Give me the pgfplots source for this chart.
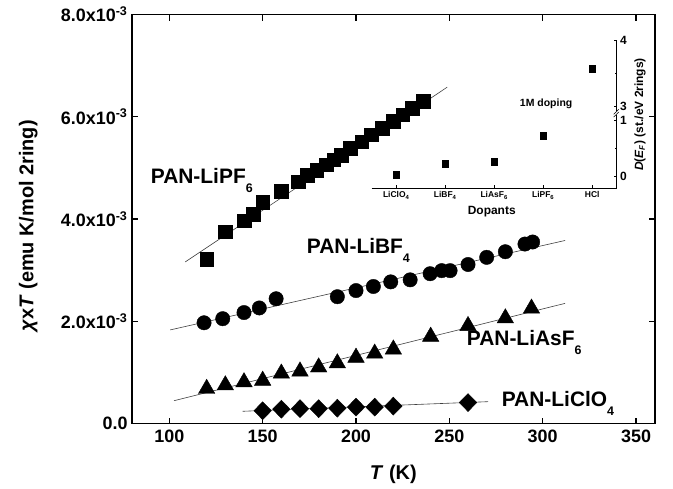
\documentclass[border=0pt]{standalone}
\usepackage{fontspec}
\setmainfont{Liberation Sans}
\usepackage{pgfplots}
\pgfplotsset{compat=1.18}
\newcommand\fs[1]{\fontsize{#1}{#1}\selectfont\bfseries}
\newcommand\lsub[1]{\raisebox{-9bp}{\fs{12.5}#1}}
\begin{document}
\begin{tikzpicture}
\path[use as bounding box] (-132bp,-65.5bp) rectangle (541bp,423.5bp);
% ---------------- main axis (chi T in units of 1e-3) ----------------
\begin{axis}[
  at={(0,0)}, anchor=south west,
  scale only axis, width=522.7bp, height=409bp,
  xmin=80, xmax=360, ymin=0, ymax=8,
  xtick={100,150,200,250,300,350},
  xticklabels={100,150,200,250,300,350},
  ytick={0,2,4,6,8},
  yticklabels={0.0,2.0x10\textsuperscript{-3},4.0x10\textsuperscript{-3},6.0x10\textsuperscript{-3},8.0x10\textsuperscript{-3}},
  tick align=inside, major tick length=6bp,
  axis line style={line width=1.6bp},
  every tick/.style={black, line width=1.4bp},
  tick label style={font=\fs{18}},
  xticklabel style={yshift=-3bp},
  yticklabel style={xshift=-1bp},
  xlabel={\textit{T} (K)},
  ylabel={\textit{χ}x\textit{T} (emu K/mol 2ring)},
  xlabel style={font=\fs{20}, at={(axis description cs:0.5,-0.1235)}, anchor=center},
  ylabel style={font=\fs{20}, at={(axis description cs:-0.1984,0.4829)}, anchor=center},
  clip=false,
]
% fit lines
\addplot[black!75, line width=0.6bp] coordinates {(108.5,3.16) (248.9,6.58)};
\addplot[black!75, line width=0.6bp] coordinates {(100.4,1.83) (312,3.58)};
\addplot[black!75, line width=0.6bp] coordinates {(102.5,0.446) (312,2.35)};
\addplot[black!75, line width=0.6bp] coordinates {(139.3,0.239) (270.8,0.427)};
% PAN-LiPF6
\addplot[only marks, mark=square*, mark size=6.8bp, black] coordinates {
(120,3.21) (130,3.75) (140,3.97) (145,4.09) (150,4.33) (160,4.54) (169,4.73)
(174,4.86) (179,4.96) (184,5.06) (188,5.16) (192,5.25) (197,5.39) (203,5.51)
(208,5.65) (214,5.78) (220,5.91) (225,6.04) (230,6.17) (236,6.30)};
% PAN-LiBF4
\addplot[only marks, mark=*, mark size=7.2bp, black] coordinates {
(118.6,1.97) (128.6,2.05) (140,2.17) (148.2,2.26) (157.2,2.44) (190,2.48)
(200,2.60) (209.3,2.68) (218.6,2.77) (229,2.81) (239.7,2.93) (245.9,2.99)
(250.4,2.99) (260,3.11) (270,3.25) (280,3.36) (290.5,3.51) (294.6,3.55)};
% PAN-LiAsF6
\addplot[only marks, mark=triangle*, mark size=9.5bp, black] coordinates {
(120,0.68) (130,0.75) (140,0.81) (150,0.84) (160,0.98) (170,1.02) (180,1.10)
(190,1.18) (200,1.29) (210,1.37) (220,1.45) (240,1.70) (260,1.91) (280,2.06) (294,2.25)};
% PAN-LiClO4
\addplot[only marks, mark=diamond*, mark size=9bp, mark options={xscale=1.3}, black] coordinates {
(150,0.25) (160,0.28) (170,0.29) (180,0.29) (190,0.30) (200,0.32) (210,0.32) (220,0.34) (260,0.41)};
% series labels
\node[anchor=base west, inner sep=0, font=\fs{21}] at (axis cs:90.0,4.69) {PAN-LiPF\lsub{6}};
\node[anchor=base west, inner sep=0, font=\fs{21}] at (axis cs:173.6,3.32) {PAN-LiBF\lsub{4}};
\node[anchor=base west, inner sep=0, font=\fs{21}] at (axis cs:259.3,1.52) {PAN-LiAsF\lsub{6}};
\node[anchor=base west, inner sep=0, font=\fs{21}] at (axis cs:278.0,0.33) {PAN-LiClO\lsub{4}};
\end{axis}
% ---------------- inset: D(E_F) vs dopant (broken y axis) ----------------
% y coordinate: value for 0..1; above the break u = 1.2346 + (value-3)*1.164
\begin{axis}[
  at={(239.7bp,235.2bp)}, anchor=south west,
  scale only axis, width=245bp, height=147.6bp,
  xmin=-0.5, xmax=4.5, ymin=-0.205, ymax=2.399,
  axis x line*=bottom, axis y line*=right,
  xtick={0,1,2,3,4},
  xticklabels={LiClO\textsubscript{4},LiBF\textsubscript{4},LiAsF\textsubscript{6},LiPF\textsubscript{6},HCl},
  ytick={0,1,1.2346,2.399}, yticklabels={0,1,3,4},
  minor ytick={0.5,1.8166},
  tick align=inside, major tick length=3bp, minor tick length=2bp,
  axis line style={line width=0.9bp},
  every tick/.style={black, line width=0.8bp},
  xticklabel style={font=\fs{8.5}},
  yticklabel style={font=\fs{12}},
  xlabel={Dopants},
  ylabel={\textit{D}(\textit{E}\textsubscript{\textit{F}}) (st./eV 2rings)},
  xlabel style={font=\fs{12}, at={(axis description cs:0.49,-0.158)}, anchor=center},
  ylabel style={font=\fs{12}, at={(axis description cs:1.095,0.5)}, anchor=center, rotate=0},
  clip=false,
]
\addplot[only marks, mark=square*, mark size=3.4bp, black] coordinates {
(0,0.03) (1,0.236) (2,0.259) (3,0.73) (4,1.898)};
\node[font=\fs{10.5}] at (axis cs:3.06,1.282) {1M doping};
% axis break marks
\fill[white] ([xshift=-3bp]axis cs:4.5,1.085) rectangle ([xshift=3bp]axis cs:4.5,1.16);
\draw[line width=0.6bp] ([xshift=-3bp,yshift=-2.5bp]axis cs:4.5,1.095) -- ++(5bp,5bp);
\draw[line width=0.6bp] ([xshift=-3bp,yshift=-2.5bp]axis cs:4.5,1.145) -- ++(5bp,5bp);
\end{axis}
\end{tikzpicture}
\end{document}
